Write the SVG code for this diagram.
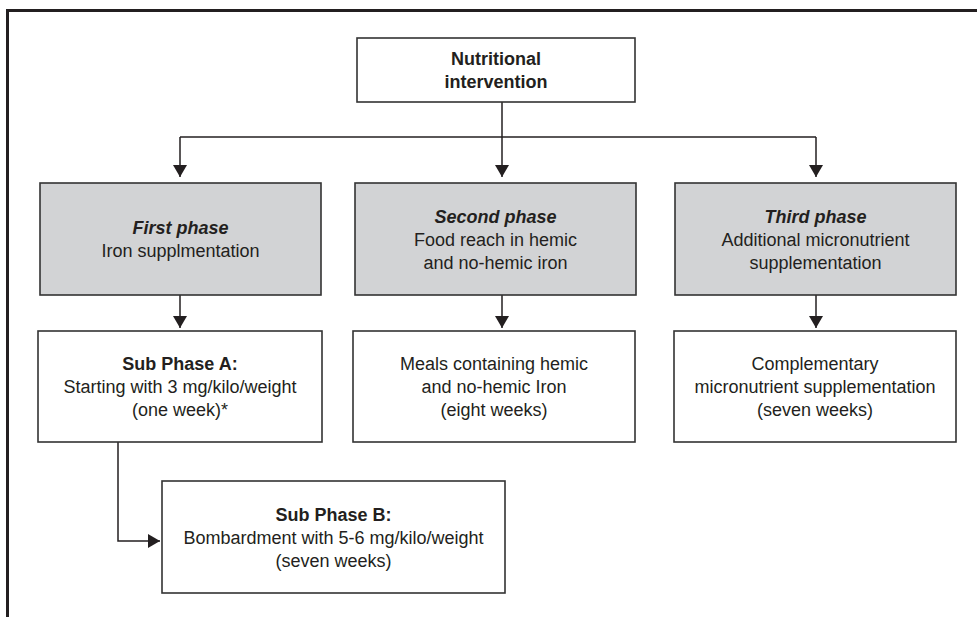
<svg xmlns="http://www.w3.org/2000/svg" width="977" height="617" viewBox="0 0 977 617">
  <style>
    .box { fill: #ffffff; stroke: #333333; stroke-width: 1.6; }
    .gray { fill: #d2d3d5; stroke: #333333; stroke-width: 1.6; }
    .frame { fill: none; stroke: #231f20; stroke-width: 3; }
    .conn { fill: none; stroke: #231f20; stroke-width: 1.5; }
    text { font-family: "Liberation Sans", Arial, sans-serif; font-size: 18px; fill: #231f20; text-anchor: middle; }
    .b { font-weight: bold; }
    .bi { font-weight: bold; font-style: italic; }
  </style>
  <defs>
    <marker id="arr" viewBox="0 0 12 14" refX="12" refY="7" markerWidth="12" markerHeight="14" markerUnits="userSpaceOnUse" orient="auto">
      <path d="M0,0 L12,7 L0,14 Z" fill="#231f20"/>
    </marker>
  </defs>
  <rect width="977" height="617" fill="#ffffff"/>
  <path class="frame" d="M7.5,617 V10.5 H977"/>

  <g id="connectors">
    <path class="conn" d="M502,102 V177" marker-end="url(#arr)"/>
    <path class="conn" d="M180,137 H816"/>
    <path class="conn" d="M180,137 V177" marker-end="url(#arr)"/>
    <path class="conn" d="M816,137 V177" marker-end="url(#arr)"/>
    <path class="conn" d="M180,295 V328" marker-end="url(#arr)"/>
    <path class="conn" d="M502,295 V328" marker-end="url(#arr)"/>
    <path class="conn" d="M816,295 V328" marker-end="url(#arr)"/>
    <path class="conn" d="M118,442 V541 H160" marker-end="url(#arr)"/>
  </g>

  <g id="nutritional">
    <rect class="box" x="357" y="38" width="278" height="64"/>
    <text class="b" x="496" y="65">Nutritional</text>
    <text class="b" x="496" y="88">intervention</text>
  </g>

  <g id="first-phase">
    <rect class="gray" x="40" y="183" width="281" height="112"/>
    <text class="bi" x="180.5" y="234">First phase</text>
    <text x="180.5" y="257">Iron supplmentation</text>
  </g>

  <g id="second-phase">
    <rect class="gray" x="355" y="183" width="281" height="112"/>
    <text class="bi" x="495.5" y="222.5">Second phase</text>
    <text x="495.5" y="245.5">Food reach in hemic</text>
    <text x="495.5" y="268.5">and no-hemic iron</text>
  </g>

  <g id="third-phase">
    <rect class="gray" x="675" y="183" width="281" height="112"/>
    <text class="bi" x="815.5" y="222.5">Third phase</text>
    <text x="815.5" y="245.5">Additional micronutrient</text>
    <text x="815.5" y="268.5">supplementation</text>
  </g>

  <g id="sub-phase-a">
    <rect class="box" x="38" y="331" width="284" height="111"/>
    <text class="b" x="180" y="370">Sub Phase A:</text>
    <text x="180" y="393">Starting with 3 mg/kilo/weight</text>
    <text x="180" y="416">(one week)*</text>
  </g>

  <g id="meals">
    <rect class="box" x="353" y="331" width="282" height="111"/>
    <text x="494" y="370">Meals containing hemic</text>
    <text x="494" y="393">and no-hemic Iron</text>
    <text x="494" y="416">(eight weeks)</text>
  </g>

  <g id="complementary">
    <rect class="box" x="674" y="331" width="282" height="111"/>
    <text x="815" y="370">Complementary</text>
    <text x="815" y="393">micronutrient supplementation</text>
    <text x="815" y="416">(seven weeks)</text>
  </g>

  <g id="sub-phase-b">
    <rect class="box" x="162" y="481" width="343" height="112"/>
    <text class="b" x="333.5" y="520.5">Sub Phase B:</text>
    <text x="333.5" y="543.5">Bombardment with 5-6 mg/kilo/weight</text>
    <text x="333.5" y="566.5">(seven weeks)</text>
  </g>
</svg>
